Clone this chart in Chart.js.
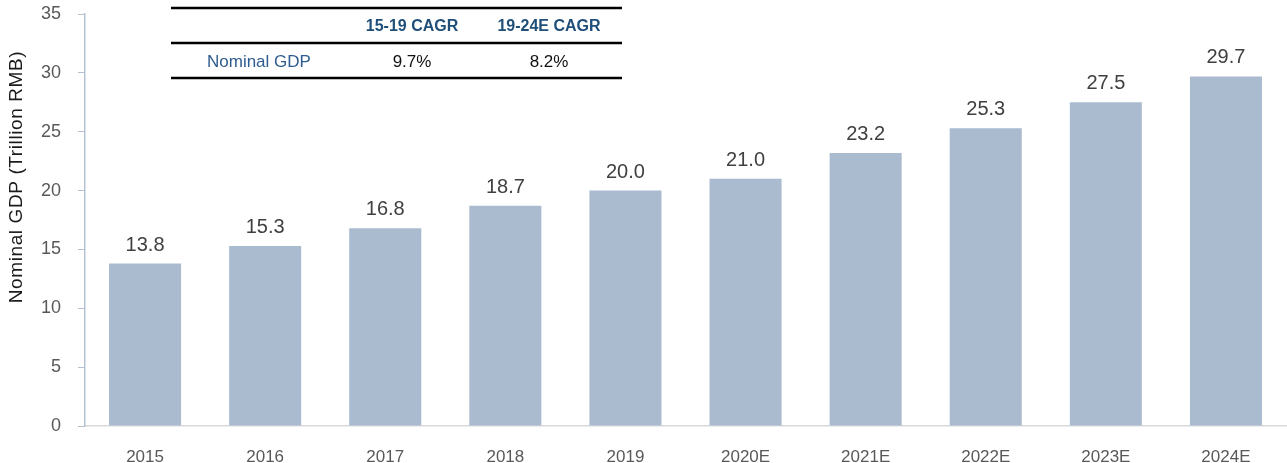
<!DOCTYPE html>
<html>
<head>
<meta charset="utf-8">
<script src="https://cdn.jsdelivr.net/npm/chart.js@4"></script>
<style>
  html, body { margin: 0; padding: 0; background: #fff; }
  #wrap { width: 1287px; height: 463px; position: relative; }
</style>
</head>
<body>
<div id="wrap"><canvas id="gdpChart"></canvas></div>
<script>
const years = ['2015', '2016', '2017', '2018', '2019', '2020E', '2021E', '2022E', '2023E', '2024E'];
const gdpValues = [13.8, 15.3, 16.8, 18.7, 20.0, 21.0, 23.2, 25.3, 27.5, 29.7];
const yTicks = [0, 5, 10, 15, 20, 25, 30, 35];
const yTitle = 'Nominal GDP (Trillion RMB)';
const tableHeaders = ['15-19 CAGR', '19-24E CAGR'];
const tableRowLabel = 'Nominal GDP';
const tableRowValues = ['9.7%', '8.2%'];

const FONT = '"Liberation Sans", Arial, sans-serif';

// value labels above each bar
const barLabels = {
  id: 'barLabels',
  afterDatasetsDraw(chart) {
    const ctx = chart.ctx;
    const meta = chart.getDatasetMeta(0);
    ctx.save();
    ctx.font = '20px ' + FONT;
    ctx.fillStyle = '#404040';
    ctx.textAlign = 'center';
    ctx.textBaseline = 'alphabetic';
    meta.data.forEach((bar, i) => {
      ctx.fillText(gdpValues[i].toFixed(1), bar.x, bar.y - 13);
    });
    ctx.restore();
  },
};

// axis title, sits a bit above the middle of the axis like the original
const axisTitle = {
  id: 'axisTitle',
  afterDraw(chart) {
    const ctx = chart.ctx;
    ctx.save();
    ctx.translate(17, 177);
    ctx.rotate(-Math.PI / 2);
    ctx.font = '19px ' + FONT;
    if ('letterSpacing' in ctx) ctx.letterSpacing = '0.6px';
    ctx.fillStyle = '#1a1a1a';
    ctx.textAlign = 'center';
    ctx.textBaseline = 'middle';
    ctx.fillText(yTitle, 0, 0);
    ctx.restore();
  },
};

// little CAGR table in the top left
const cagrTable = {
  id: 'cagrTable',
  afterDraw(chart) {
    const ctx = chart.ctx;
    const left = 171, right = 622;
    const cols = [412, 549];
    ctx.save();
    ctx.strokeStyle = '#000';
    ctx.lineWidth = 2.5;
    [8, 43, 78].forEach((y) => {
      ctx.beginPath();
      ctx.moveTo(left, y);
      ctx.lineTo(right, y);
      ctx.stroke();
    });
    ctx.textBaseline = 'middle';
    ctx.textAlign = 'center';
    ctx.font = 'bold 16px ' + FONT;
    ctx.fillStyle = '#1f4e79';
    tableHeaders.forEach((h, i) => ctx.fillText(h, cols[i], 27));
    ctx.font = '17px ' + FONT;
    ctx.fillStyle = '#2e5c8f';
    ctx.textAlign = 'left';
    ctx.fillText(tableRowLabel, 207, 62);
    ctx.fillStyle = '#111';
    ctx.textAlign = 'center';
    tableRowValues.forEach((v, i) => ctx.fillText(v, cols[i], 62));
    ctx.restore();
  },
};

new Chart(document.getElementById('gdpChart'), {
  type: 'bar',
  data: {
    labels: years,
    datasets: [
      {
        data: gdpValues,
        backgroundColor: '#aabbd0',
        categoryPercentage: 0.6,
        barPercentage: 1,
      },
    ],
  },
  options: {
    responsive: true,
    maintainAspectRatio: false,
    animation: false,
    layout: { padding: { top: 14, right: 1, left: 0, bottom: 0 } },
    plugins: {
      legend: { display: false },
      tooltip: { enabled: false },
    },
    scales: {
      x: {
        grid: { display: false },
        border: { color: '#d9d9d9', width: 1.5 },
        ticks: {
          color: '#595959',
          font: { family: FONT, size: 17 },
          padding: 13,
          maxRotation: 0,
        },
        afterFit: (scale) => { scale.height = 37; },
      },
      y: {
        min: 0,
        max: 35,
        afterBuildTicks: (scale) => {
          scale.ticks = yTicks.map((v) => ({ value: v }));
        },
        grid: {
          drawOnChartArea: false,
          color: '#b4c3d4',
          tickLength: 7,
        },
        border: { color: '#b4c3d4', width: 1.5 },
        ticks: {
          color: '#595959',
          font: { family: FONT, size: 18 },
          padding: 17,
        },
        afterFit: (scale) => {
          scale.width = 85;
          scale.paddingTop = 0;
          scale.paddingBottom = 0;
        },
      },
    },
  },
  plugins: [barLabels, axisTitle, cagrTable],
});
</script>
</body>
</html>
